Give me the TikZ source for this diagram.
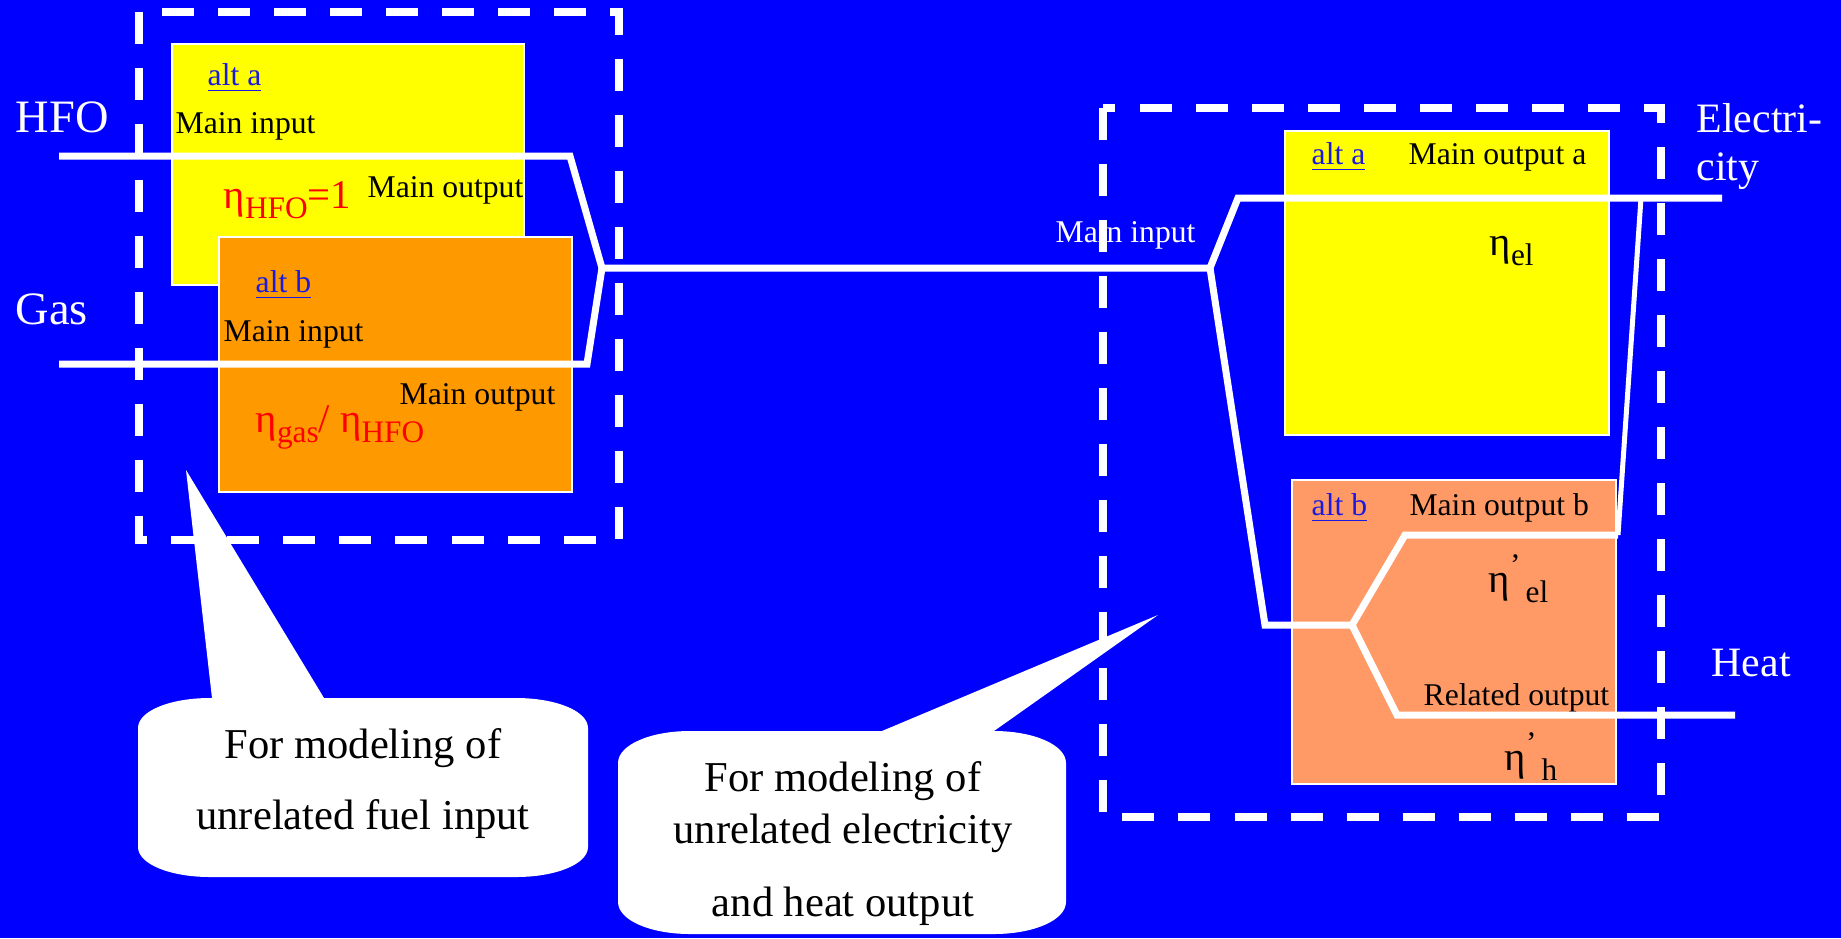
\documentclass[tikz,border=0pt]{standalone}
\usepackage{fontspec}
\setmainfont{Liberation Serif}
\definecolor{BgBlue}{HTML}{0000FF}
\definecolor{AltYellow}{HTML}{FFFF00}
\definecolor{AltOrange}{HTML}{FF9900}
\definecolor{AltSalmon}{HTML}{FF9966}
\definecolor{LinkBlue}{HTML}{1A1AE0}
\definecolor{EtaRed}{HTML}{FF0000}
\usetikzlibrary{positioning}
\newcommand{\subtxt}[1]{\raisebox{-3pt}{\fontsize{8.9pt}{10pt}\selectfont #1}}
\newcommand{\suptick}{\raisebox{4.8pt}{\fontsize{8.9pt}{10pt}\selectfont ’}}

\begin{document}
\begin{tikzpicture}[x=0.01cm, y=-0.01cm,
  altbox/.style={draw=white, line width=0.6pt, inner sep=0pt, anchor=north west},
  flow/.style={white, line width=0.07cm},
  dashbox/.style={white, line width=0.083cm, dash pattern=on 0.32cm off 0.24cm},
  boxtext/.style={inner sep=0pt, anchor=base west, font=\fontsize{9pt}{10.8pt}\selectfont},
  alttag/.style={boxtext, LinkBlue},
  fuellabel/.style={inner sep=0pt, anchor=base west, white, font=\fontsize{13.2pt}{15.8pt}\selectfont},
  eta/.style={inner sep=0pt, anchor=base west, font=\fontsize{11.6pt}{13.9pt}\selectfont},
  note/.style={inner sep=0pt, anchor=north, align=center, font=\fontsize{12.1pt}{14.8pt}\selectfont}]
  \useasboundingbox (0,0) rectangle (1841,938);
  \fill[BgBlue] (0,0) rectangle (1841,938);

  \node[altbox, fill=AltYellow, minimum width=3.52cm, minimum height=2.41cm] (lalta) at (171,43) {};
  \node[altbox, fill=AltOrange, minimum width=3.53cm, minimum height=2.55cm] (laltb) at (218,236) {};
  \node[altbox, fill=AltYellow, minimum width=3.24cm, minimum height=3.04cm] (ralta) at (1284,130) {};
  \node[altbox, fill=AltSalmon, minimum width=3.24cm, minimum height=3.04cm] (raltb) at (1291,479) {};

  \node[fuellabel] (hfo) at (15,132) {HFO};
  \node[fuellabel] (gas) at (15,324) {Gas};
  \node[alttag] (laltatag) at (207,85) {\underline{alt a}};
  \node[boxtext] (lamainin) at (175,133) {Main input};
  \node[eta, EtaRed] (letaa) at (223,208) {η\subtxt{HFO}=1};
  \node[boxtext] (lamainout) at (367,197) {Main output};
  \node[alttag] (laltbtag) at (255,292) {\underline{alt b}};
  \node[boxtext] (lbmainin) at (223,341) {Main input};
  \node[boxtext] (lbmainout) at (399,404) {Main output};
  \node[eta, EtaRed] (letab) at (255,432) {η\subtxt{gas}/ η\subtxt{HFO}};

  \node[alttag] (raltatag) at (1311,164) {\underline{alt a}};
  \node[boxtext, base right=0.42cm of raltatag] (ramainout) {Main output a};
  \node[eta] (retaa) at (1489,255) {η\subtxt{el}};
  \node[alttag] (raltbtag) at (1311,515) {\underline{alt b}};
  \node[boxtext, base right=0.41cm of raltbtag] (rbmainout) {Main output b};
  \node[eta] (retab) at (1488,592) {η\suptick\subtxt{\,el}};
  \node[boxtext] (rbrelout) at (1423,705) {Related output};
  \node[eta] (retah) at (1504,770) {η\suptick\subtxt{\,h}};
  \node[fuellabel, font=\fontsize{11.9pt}{13.66pt}\selectfont, align=left, anchor=north west] (elec) at (1696,103) {Electri-\\city};
  \node[fuellabel, font=\fontsize{11.9pt}{14.3pt}\selectfont] (heat) at (1711,676) {Heat};
  \node[boxtext, white] (mainin) at (1055,242) {Main input};

  \coordinate (hfoin) at (59,156);
  \coordinate (hfobend) at (570,156);
  \coordinate (gasin) at (59,364);
  \coordinate (gasbend) at (587,364);
  \coordinate (join) at (602,268);
  \coordinate (fork) at (1210,268);
  \coordinate (elbend) at (1238,198);
  \coordinate (elout) at (1722,198);
  \coordinate (altbin) at (1265,625);
  \coordinate (split) at (1352,625);
  \coordinate (belbend) at (1405,535);
  \coordinate (belend) at (1618,535);
  \coordinate (elmerge) at (1641,198);
  \coordinate (heatbend) at (1397,715);
  \coordinate (heatout) at (1735,715);

  \draw[flow] (hfoin) -- (hfobend) -- (join) -- (fork);
  \draw[flow] (gasin) -- (gasbend) -- (join);
  \draw[flow] (fork) -- (elbend) -- (elout);
  \draw[flow] (fork) -- (altbin) -- (split) -- (belbend) -- (belend);
  \draw[flow, line width=0.05cm] (belend) -- (elmerge);
  \draw[flow] (split) -- (heatbend) -- (heatout);

  \draw[dashbox] (139,12) -- (139,540) -- (619,540) -- (619,12) -- cycle;
  \draw[dashbox] (1103,108) -- (1103,817) -- (1661,817) -- (1661,108) -- cycle;

  \fill[white] (138,728) .. controls (138,711) and (170,698) .. (210,698) -- (212,698) -- (186,470) -- (324,698) -- (516,698)
    .. controls (556,698) and (588,711) .. (588,728) -- (588,847) .. controls (588,864) and (556,877) .. (516,877)
    -- (210,877) .. controls (170,877) and (138,864) .. (138,847) -- cycle;
  \node[note] (fuelnote) at (363,728) {For modeling of\\[5.4pt]unrelated fuel input};

  \fill[white] (618,763) .. controls (618,745) and (650,731) .. (690,731) -- (882,731) -- (1158,615) -- (994,731)
    .. controls (1034,731) and (1066,745) .. (1066,763) -- (1066,902) .. controls (1066,920) and (1034,934) .. (994,934)
    -- (690,934) .. controls (650,934) and (618,920) .. (618,902) -- cycle;
  \node[note] (outnote) at (843,761) {For modeling of\\unrelated electricity\\[6pt]and heat output};
\end{tikzpicture}
\end{document}
